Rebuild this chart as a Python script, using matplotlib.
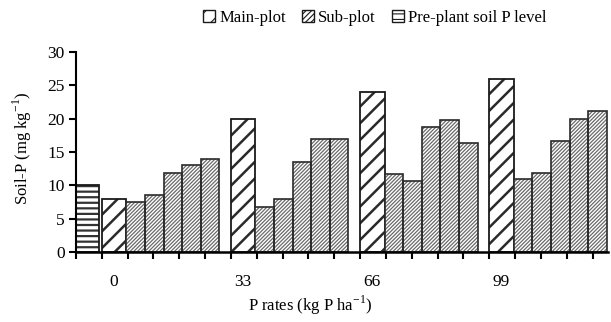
import matplotlib
matplotlib.use("Agg")
import matplotlib.pyplot as plt
from matplotlib.patches import Patch
import numpy as np

# ---- data ----
rates = ["0", "33", "66", "99"]
preplant_level = 10.0
main_plot = [8.0, 20.0, 24.0, 26.0]
sub_plot = [
    [7.5, 8.6, 11.8, 13.0, 14.0],
    [6.7, 7.9, 13.5, 16.9, 16.9],
    [11.7, 10.7, 18.8, 19.8, 16.4],
    [11.0, 11.9, 16.6, 20.0, 21.2],
]
legend_labels = ["Main-plot", "Sub-plot", "Pre-plant soil P level"]

plt.rcParams['font.family'] = ['Liberation Serif', 'DejaVu Serif']
plt.rcParams['mathtext.fontset'] = 'custom'
plt.rcParams['mathtext.rm'] = 'Liberation Serif'

fig = plt.figure(figsize=(6.11, 3.22), dpi=100)
ax = fig.add_axes([76/611, 70/322, (608-76)/611, 200/322])

edge = '#1a1a1a'
main_w = 0.95
sub_w = 0.72
pre_w = 0.9
pitch = 5.0

def hatch_lw(artists, lw):
    for a in artists:
        if hasattr(a, 'set_hatch_linewidth'):
            a.set_hatch_linewidth(lw)

# pre-plant bar
plt.rcParams['hatch.linewidth'] = 1.6
b = ax.bar([0], [preplant_level], width=pre_w, align='edge', color='white',
           edgecolor='#333333', hatch='---', linewidth=0)
hatch_lw(b, 1.6)
ax.bar([0], [preplant_level], width=pre_w, align='edge', fill=False,
       edgecolor=edge, linewidth=1.3)

main_left = [1.0 + pitch*g for g in range(len(rates))]
plt.rcParams['hatch.linewidth'] = 1.8
b = ax.bar(main_left, main_plot, width=main_w, align='edge', color='white',
           edgecolor='#2a2a2a', hatch='//', linewidth=0)
hatch_lw(b, 1.8)
ax.bar(main_left, main_plot, width=main_w, align='edge', fill=False,
       edgecolor=edge, linewidth=1.3)

plt.rcParams['hatch.linewidth'] = 0.9
for g in range(len(rates)):
    start = main_left[g] + main_w
    xs = [start + i*sub_w for i in range(len(sub_plot[g]))]
    b = ax.bar(xs, sub_plot[g], width=sub_w, align='edge', color='white',
               edgecolor='#6a6a6a', hatch='/////////', linewidth=0)
    hatch_lw(b, 0.9)
    ax.bar(xs, sub_plot[g], width=sub_w, align='edge', fill=False,
           edgecolor='#2a2a2a', linewidth=1.2)

ax.set_xlim(0, 20.6)
ax.set_ylim(0, 30)
ax.set_yticks(np.arange(0, 31, 5))
ax.spines['top'].set_visible(False)
ax.spines['right'].set_visible(False)
ax.spines['left'].set_linewidth(1.5)
ax.spines['bottom'].set_linewidth(1.8)

centers = [m + main_w/2 for m in main_left]
ax.set_xticks(centers)
ax.set_xticklabels(rates)
ax.tick_params(axis='x', which='major', length=0, pad=16, labelsize=12.5)
ax.set_xticks(np.arange(0, 21, 1), minor=True)
ax.tick_params(axis='x', which='minor', length=5, width=1.5, direction='out')
ax.tick_params(axis='y', length=5, width=1.5, labelsize=12.5, pad=3)

fig.text(22/611, 1 - 148/322, 'Soil-P (mg kg$^{\\mathregular{-1}}$)',
         rotation=90, ha='center', va='center', fontsize=12)
fig.text(310/611, 1 - 305/322, 'P rates (kg P ha$^{\\mathregular{-1}}$)',
         ha='center', va='center', fontsize=12)

plt.rcParams['hatch.linewidth'] = 0.8
handles = [
    Patch(facecolor='white', edgecolor=edge, hatch='//', linewidth=1),
    Patch(facecolor='white', edgecolor=edge, hatch='//////', linewidth=1),
    Patch(facecolor='white', edgecolor=edge, hatch='---', linewidth=1),
]
fig.legend(handles, legend_labels, loc='center', bbox_to_anchor=(375/611, 1 - 18/322),
           ncol=3, frameon=False, fontsize=12, handlelength=0.7, handleheight=0.7,
           handletextpad=0.25, columnspacing=1.0, borderpad=0)

fig.savefig('out.png', dpi=100)
